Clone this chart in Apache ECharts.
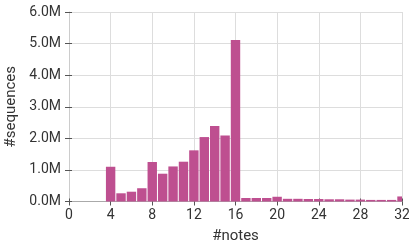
<!DOCTYPE html>
<html>
<head>
<meta charset="utf-8">
<script src="https://cdn.jsdelivr.net/npm/echarts@6/dist/echarts.min.js"></script>
<style>
  html, body { margin: 0; padding: 0; background: #fff; }
  #main { width: 409px; height: 243px; }
</style>
</head>
<body>
<div id="main"></div>
<script>
// number of notes per sequence (bin centers)
var notes = [4, 5, 6, 7, 8, 9, 10, 11, 12, 13, 14, 15, 16, 17, 18, 19, 20,
             21, 22, 23, 24, 25, 26, 27, 28, 29, 30, 31, 32];
// sequence counts, millions
var counts = [1.10, 0.26, 0.31, 0.42, 1.25, 0.88, 1.11, 1.26, 1.62, 2.04, 2.39, 2.09, 5.11, 0.11, 0.11, 0.11, 0.15,
              0.085, 0.085, 0.08, 0.08, 0.07, 0.07, 0.06, 0.06, 0.05, 0.05, 0.05, 0.16];
var xTicks = [0, 4, 8, 12, 16, 20, 24, 28, 32];
var yTicks = [0, 1, 2, 3, 4, 5, 6];

var barColor = '#BE4F90';
var font = 'Roboto, "Open Sans", sans-serif';
var txt = '#333';

var myChart = echarts.init(document.getElementById('main'));

var data = notes.map(function (n, i) {
  return [n, counts[i] * 1e6];
});

// histogram bins: one unit wide, centred on the note count, clipped to the plot
function renderBin(params, api) {
  var x = api.value(0), v = api.value(1);
  var p0 = api.coord([x - 0.5, 0]);
  var p1 = api.coord([x + 0.5, v]);
  var cs = params.coordSys;
  var shape = echarts.graphic.clipRectByRect(
    { x: p0[0] + 0.5, y: p1[1], width: p1[0] - p0[0] - 1, height: p0[1] - p1[1] },
    { x: cs.x, y: cs.y, width: cs.width, height: cs.height }
  );
  return shape && { type: 'rect', shape: shape, style: { fill: barColor } };
}

var option = {
  animation: false,
  grid: { left: 69, right: 7, top: 12, bottom: 41.5, outerBoundsMode: 'none', containLabel: false },
  xAxis: [
    {
      type: 'value',
      min: xTicks[0],
      max: xTicks[xTicks.length - 1],
      interval: 4,
      name: '#notes',
      nameLocation: 'middle',
      nameGap: 27,
      nameTextStyle: { fontFamily: font, fontSize: 15, color: txt },
      axisLine: { show: true, lineStyle: { color: '#aaa' } },
      axisTick: { show: true, length: 4, lineStyle: { color: '#555' } },
      axisLabel: { fontFamily: font, fontSize: 14, color: txt, margin: 7 },
      splitLine: { show: true, lineStyle: { color: '#ddd', width: 1 } }
    },
    {
      type: 'value',
      position: 'top',
      min: 0, max: 32, interval: 4,
      axisLine: { show: false },
      axisTick: { show: true, length: 3, lineStyle: { color: '#555' } },
      axisLabel: { show: false },
      splitLine: { show: false }
    }
  ],
  yAxis: [
    {
      type: 'value',
      min: 0,
      max: yTicks[yTicks.length - 1] * 1e6,
      interval: 1e6,
      name: '#sequences',
      nameLocation: 'middle',
      nameGap: 50,
      nameTextStyle: { fontFamily: font, fontSize: 15, color: txt },
      axisLine: { show: true, lineStyle: { color: '#ccc' } },
      axisTick: { show: true, length: 4, lineStyle: { color: '#555' } },
      axisLabel: {
        fontFamily: font, fontSize: 14, color: txt, margin: 8,
        formatter: function (v) { return (v / 1e6).toFixed(1) + 'M'; }
      },
      splitLine: { show: true, lineStyle: { color: '#ddd', width: 1 } }
    },
    {
      type: 'value',
      position: 'right',
      min: 0, max: 6e6, interval: 1e6,
      axisLine: { show: false },
      axisTick: { show: true, length: 3, lineStyle: { color: '#555' } },
      axisLabel: { show: false },
      splitLine: { show: false }
    }
  ],
  series: [
    {
      type: 'custom',
      renderItem: renderBin,
      encode: { x: 0, y: 1 },
      data: data,
      z: 3
    }
  ]
};
myChart.setOption(option);
</script>
</body>
</html>
